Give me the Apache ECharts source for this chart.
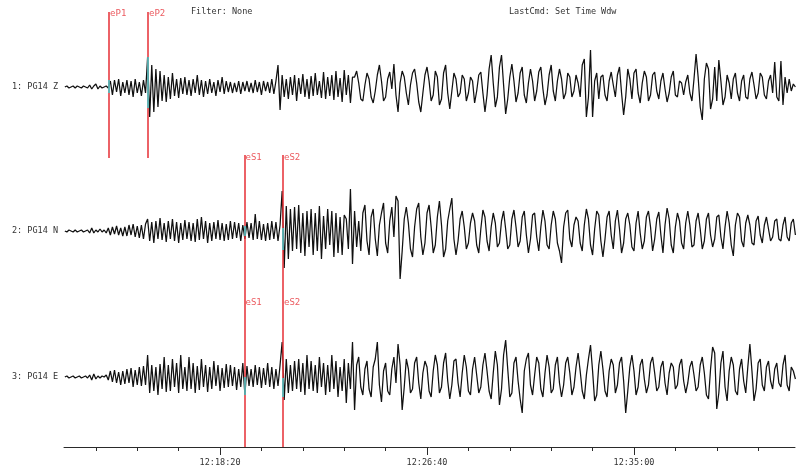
<!DOCTYPE html>
<html><head><meta charset="utf-8">
<script src="https://cdn.jsdelivr.net/npm/echarts@6/dist/echarts.min.js"></script>
<style>html,body{margin:0;padding:0;background:#fff}#c{width:800px;height:473px}</style>
</head><body><div id="c"></div>
<script>
// ---- data (seconds after 12:00:00; amplitudes in display counts, positive up) ----
const START_SEC = 725;
const STEP_SEC = 5;
const AXIS_MIN = 723;
const AXIS_MAX = 2489;
const MAJOR_TICKS = [1100, 1600, 2100];
const MINOR_TICKS = [800, 900, 1000, 1100, 1200, 1300, 1400, 1500, 1600, 1700, 1800, 1900, 2000, 2100, 2200, 2300, 2400];
const channels = ['1: PG14 Z', '2: PG14 N', '3: PG14 E'];
const headerTexts = ['Filter: None', 'LastCmd: Set Time Wdw'];
const pPickNames = ['eP1', 'eP2'];
const pPickTimes = [832, 926];
const sPickNames = ['eS1', 'eS2'];
const sPickTimes = [1159, 1252];

const traceZ = [
0,1,-1,0,1,-1,1,0,-1,1,
0,-1,2,-2,1,3,-2,1,-1,0,
1,-1,6,-8,7,-5,8,-9,5,-6,
7,-8,6,-10,8,-6,5,-9,7,-6,
30,-30,22,-25,18,-20,16,-14,12,-15,
10,-12,14,-9,8,-11,9,-7,10,-8,
7,-9,8,-6,12,-8,7,-10,6,-7,
8,-6,5,-9,7,-5,10,-7,6,-5,
5,-6,4,-5,6,-7,5,-4,6,-5,
4,-6,7,-5,5,-8,6,-4,5,-6,
8,-7,6,22,-23,12,-10,8,-12,10,
-8,12,-14,9,-7,13,-10,8,-12,11,
-9,14,-8,6,-11,15,-12,10,-9,12,
-13,16,-10,9,-15,17,-8,12,-16,10,
10,16,4,-12,-14,2,14,8,-10,-16,
-4,12,22,6,-14,-10,8,15,-2,23,
-8,-25,4,16,10,-6,-18,2,14,18,
4,-15,-25,-6,12,20,6,-14,-8,16,
10,-18,-12,14,22,-6,-22,-4,14,8,
-10,-6,12,8,-14,-6,10,6,-16,-4,
12,15,-6,-25,-8,18,32,4,-20,-10,
20,32,2,-27,-12,10,23,6,-15,-6,
14,20,-8,-16,4,18,6,-14,-4,15,
20,-2,-18,-8,12,22,-4,-14,6,18,
8,-12,-6,14,10,-10,-4,12,4,-10,
22,28,-30,-10,37,-30,6,14,-12,10,
12,-8,-14,6,15,2,-10,12,20,-6,
-28,-10,18,8,-12,14,18,-6,-16,4,
16,10,-14,-8,12,15,-4,-12,6,14,
-2,-15,-6,10,16,-8,-10,6,4,-8,
5,12,-6,-14,8,33,10,-20,-33,8,
24,18,-22,-12,20,-14,27,6,-18,-10,
12,4,-12,8,14,-6,-14,6,12,-10,
-12,8,15,2,-12,-6,14,10,-8,-12,
6,12,-6,25,-10,-14,26,-18,10,-6,
8,-4,3,0];

const traceN = [
0,-1,1,0,-1,1,-1,0,1,-1,
0,1,-2,3,-2,1,-1,2,-1,1,
-2,3,-4,4,-3,5,-4,3,-5,4,
-5,6,-4,7,-6,5,-7,6,-8,7,
12,-10,9,-12,10,-8,13,-9,8,-11,
10,-8,12,-10,9,-12,8,-9,11,-8,
9,-10,8,-11,12,-9,14,-8,10,-12,
8,-10,9,-8,11,-9,8,-10,7,-9,
10,-8,9,-7,8,-10,6,-8,9,-7,
8,-9,17,-8,10,-9,7,-10,8,-9,
10,-8,9,-10,6,40,-37,25,-28,22,
-20,24,-18,26,-22,18,-25,20,-16,22,
-24,18,-20,25,-28,15,-18,22,-14,20,
-26,18,-22,14,-24,16,12,-18,42,-33,
20,-16,10,-20,18,26,-10,-24,14,22,
-8,-25,6,18,28,-12,-22,10,24,-6,
35,30,-48,-20,12,24,8,-18,-26,4,
22,28,-6,-24,-12,18,26,4,-22,-14,
14,30,6,-26,-18,10,22,33,-8,-24,
-10,12,20,4,-18,-12,8,18,10,-14,
-22,2,21,14,-10,-20,4,18,8,-16,
-12,10,20,2,-18,-14,12,21,4,-16,
-10,14,20,-4,-22,-8,16,18,-6,-20,
4,21,10,-14,-18,6,20,12,-12,-20,
-32,4,18,21,-8,-16,6,14,10,-12,
-20,6,22,12,-14,-24,2,20,16,-10,
-26,-8,14,20,-4,-18,10,21,2,-22,
-12,12,18,6,-16,-20,8,20,-2,-18,
-10,14,20,4,-20,-8,12,19,-4,-22,
6,23,12,-14,-22,4,18,10,-12,-18,
8,20,6,-16,-14,10,18,2,-18,-10,
12,18,-4,-16,-8,14,16,-6,-18,4,
20,8,-14,-25,6,18,14,-10,-16,8,
16,6,-12,-14,10,15,-4,-12,6,14,
2,-10,-6,10,12,-8,-10,6,14,-6,
-10,8,12,-4];

const traceE = [
0,1,-1,0,1,-1,0,1,-1,0,
1,-1,2,-3,3,-2,1,-1,1,0,
2,-3,6,-5,7,-6,5,-8,6,-7,
8,-6,9,-10,7,-8,10,-9,11,-8,
22,-16,12,-14,10,-18,13,-12,20,-15,
12,-14,18,-10,14,-16,22,-12,10,-14,
20,-12,14,-16,11,-13,18,-10,12,-15,
10,-12,16,-9,12,-14,9,-11,13,-10,
12,-9,10,-13,8,-10,14,-18,11,-9,
8,-10,12,-8,10,-11,9,-8,14,-10,
10,-12,8,-9,12,35,-23,18,-16,12,
-14,16,-12,18,-15,14,-18,22,-12,16,
-14,12,-16,20,-10,14,-18,12,-15,22,
-12,16,-20,10,-14,18,-26,14,-12,35,
-33,12,20,-10,-18,8,16,-12,-20,10,
18,35,-8,-25,6,14,-14,-18,8,20,
-6,33,12,-33,-10,18,8,-16,-12,14,
20,-6,-22,4,16,10,-14,-20,6,22,
12,-16,-10,14,24,-4,-22,-8,16,18,
-6,-20,4,22,10,-14,-18,8,20,2,
-16,-10,12,24,6,-14,-22,4,26,12,
-28,-12,22,37,8,-20,-16,14,20,-4,
-22,-36,6,18,24,-8,-18,2,20,14,
-12,-20,4,22,10,-16,-12,12,20,-6,
-20,-8,14,20,4,-18,-10,10,24,6,
-14,-22,2,18,32,6,-24,-18,12,26,
8,-14,-20,6,18,12,-16,-8,14,20,
-4,-36,-14,10,22,6,-18,-10,12,18,
-2,-16,-8,14,20,4,-14,-10,10,16,
-6,-18,4,14,10,-12,-8,12,18,-4,
-16,-6,10,16,2,-14,-10,12,20,4,
-18,-22,8,30,24,-32,-16,14,26,-10,
-24,6,20,12,-14,-18,8,18,-4,-16,
10,33,6,-24,-12,14,18,-8,-14,10,
16,-4,-12,8,14,-6,-10,12,22,-8,
-14,10,6,-2];

// ---- layout / style ----
const Y_MAX = 447;                 // plot height in display units
const TRACE_BASE = [360, 216, 70]; // baseline of each trace
const P_LINE = [435, 289];
const S_LINE = [292, 0];
const P_LABEL_Y = 433;
const S_LABEL_Y = [289, 144];
const CYAN = [
  {t: 832, y: [367, 354]}, {t: 926, y: [390, 339]},
  {t: 1159, y: [221, 211]}, {t: 1252, y: [219, 197]},
  {t: 1159, y: [70, 52]}, {t: 1252, y: [69, 50]}
];
const MONO = '"DejaVu Sans Mono", "Liberation Mono", monospace';
const RED = '#e62e35';

function fmtTime(v) {
  const s = 12 * 3600 + Math.round(v);
  const h = Math.floor(s / 3600), m = Math.floor((s % 3600) / 60), sec = s % 60;
  const p = n => (n < 10 ? '0' : '') + n;
  return p(h) + ':' + p(m) + ':' + p(sec);
}

const traces = [traceZ, traceN, traceE];
const series = [];

const redLines = [];
pPickTimes.forEach(t => redLines.push([{coord: [t, P_LINE[0]]}, {coord: [t, P_LINE[1]]}]));
sPickTimes.forEach(t => redLines.push([{coord: [t, S_LINE[0]]}, {coord: [t, S_LINE[1]]}]));
series.push({
  type: 'line', data: [], z: 1, silent: true,
  markLine: {symbol: 'none', silent: true, animation: false, label: {show: false},
    emphasis: {disabled: true},
    lineStyle: {color: RED, width: 1.5, type: 'solid', opacity: 1}, data: redLines}
});

traces.forEach((tr, k) => {
  series.push({
    type: 'line', name: channels[k], z: 2, silent: true,
    showSymbol: false, symbol: 'none', animation: false,
    lineStyle: {color: '#101010', width: 1.25},
    data: tr.map((a, i) => [START_SEC + i * STEP_SEC, TRACE_BASE[k] + a])
  });
});

series.push({
  type: 'line', data: [], z: 3, silent: true,
  markLine: {symbol: 'none', silent: true, animation: false, label: {show: false},
    lineStyle: {color: '#38d0d0', width: 1.5, type: 'solid'},
    data: CYAN.map(c => [{coord: [c.t, c.y[0]]}, {coord: [c.t, c.y[1]]}])}
});

const labelPts = [];
pPickNames.forEach((n, i) => labelPts.push([pPickTimes[i], P_LABEL_Y, n]));
sPickNames.forEach((n, i) => S_LABEL_Y.forEach(y => labelPts.push([sPickTimes[i], y, n])));
series.push({
  type: 'scatter', z: 4, silent: true, symbolSize: 0, animation: false,
  data: labelPts,
  label: {show: true, position: 'right', distance: 1, formatter: p => p.data[2],
    color: RED, fontSize: 9, fontFamily: MONO}
});

const chart = echarts.init(document.getElementById('c'), null, {renderer: 'canvas'});
chart.setOption({
  backgroundColor: '#ffffff',
  animation: false,
  grid: {left: 64, right: 5, top: 0, bottom: 26, containLabel: false},
  xAxis: [
    {type: 'value', min: AXIS_MIN, max: AXIS_MAX, position: 'bottom',
     axisLine: {show: true, lineStyle: {color: '#2a2a2a', width: 1}},
     axisTick: {show: true, length: 8, customValues: MAJOR_TICKS, lineStyle: {color: '#2a2a2a'}},
     axisLabel: {show: true, customValues: MAJOR_TICKS, formatter: fmtTime, margin: 11,
       color: '#333', fontSize: 8.5, fontFamily: MONO},
     splitLine: {show: false}},
    {type: 'value', min: AXIS_MIN, max: AXIS_MAX, position: 'bottom',
     axisLine: {show: false},
     axisTick: {show: true, length: 4, customValues: MINOR_TICKS, lineStyle: {color: '#2a2a2a'}},
     axisLabel: {show: false}, splitLine: {show: false}}
  ],
  yAxis: {type: 'value', min: 0, max: Y_MAX,
    axisLine: {show: false}, axisTick: {show: false}, splitLine: {show: false},
    axisLabel: {show: true, customValues: TRACE_BASE, margin: 6,
      formatter: v => channels[TRACE_BASE.indexOf(v)],
      color: '#333', fontSize: 8.5, fontFamily: MONO}},
  graphic: [
    {type: 'text', left: 191, top: 7, style: {text: headerTexts[0], fill: '#333', font: '8.5px ' + MONO}},
    {type: 'text', left: 509, top: 7, style: {text: headerTexts[1], fill: '#333', font: '8.5px ' + MONO}}
  ],
  series: series
});
</script>
</body></html>
